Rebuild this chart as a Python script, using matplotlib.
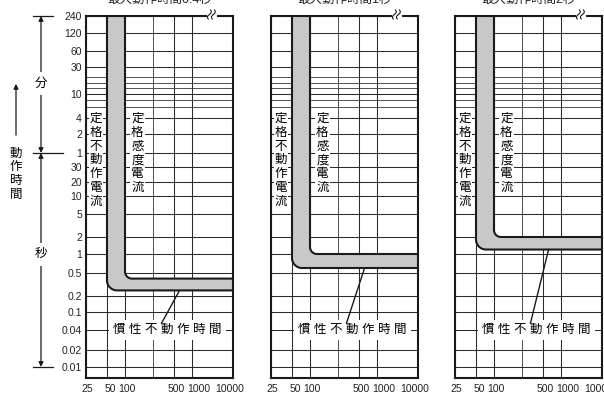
import numpy as np
import matplotlib
matplotlib.use('Agg')
import matplotlib.pyplot as plt
from matplotlib import transforms

plt.rcParams['font.family'] = ['Liberation Sans', 'Noto Sans CJK JP', 'DejaVu Sans']

# ---- data ----
titles = ['最大動作時間0.4秒', '最大動作時間1秒', '最大動作時間2秒']
max_time = [0.4, 1.0, 2.0]          # s  (定格感度電流 side of the band)
inertia_time = [0.25, 0.6, 1.2]     # s  (慣性不動作時間 side, as drawn)
rated_sens = 100                    # mA 定格感度電流
rated_nonop = 50                    # mA 定格不動作電流

x_ticks = [25, 50, 100, 500, 1000, 10000]
x_minor = [250]
min_ticks = [240, 120, 60, 30, 10, 4, 2, 1]        # minutes
min_minor = [20, 15, 12, 8, 6]                     # minutes, unlabeled lines
sec_ticks = [30, 20, 10, 5, 2, 1, 0.5, 0.2, 0.1, 0.04, 0.02, 0.01]

# ---- printed (non uniform) grid: value -> pixel along axis ----
XK = [(25, 0), (50, 21), (100, 39), (250, 67), (500, 88), (1000, 106), (10000, 147)]
YK = [(0.0064, 0), (0.01, 11), (0.02, 28), (0.04, 48), (0.1, 66), (0.2, 82),
      (0.5, 105), (1, 124), (2, 141), (5, 164), (10, 182), (20, 196), (30, 211),
      (60, 225), (120, 244), (240, 260), (360, 271), (480, 278), (600, 284),
      (720, 290), (900, 295), (1200, 301), (1800, 311), (3600, 327),
      (7200, 345), (14400, 362)]
# small horizontal nudges (px) of the printed x labels
x_label_shift = [1, 3, 2, 2, 7, -3]


def make_scale(knots):
    lv = np.log10([k[0] for k in knots])
    pv = np.array([k[1] for k in knots], float)

    def fwd(v):
        v = np.clip(np.asarray(v, float), 1e-9, None)
        return np.interp(np.log10(v), lv, pv)

    def inv(p):
        return 10 ** np.interp(np.asarray(p, float), pv, lv)
    return fwd, inv


fx, fx_inv = make_scale(XK)
fy, fy_inv = make_scale(YK)
XTOP, YTOP = 147.0, 362.0


def corner(xv, yh, r):
    # vertical from top, rounded corner, horizontal to the right edge (in px)
    a = np.linspace(np.pi, 1.5 * np.pi, 24)
    px = np.concatenate([[xv], xv + r + r * np.cos(a), [XTOP]])
    py = np.concatenate([[YTOP], yh + r + r * np.sin(a), [yh]])
    return px, py


W, H = 604, 396
fig = plt.figure(figsize=(W / 100, H / 100), dpi=100)
lefts = [86, 271, 455]
axes = []

y_vals = [m * 60 for m in min_ticks] + sec_ticks
y_labels = [f'{v:g}' for v in min_ticks + sec_ticks]
y_minor = [m * 60 for m in min_minor]

cjk = ['Noto Sans CJK JP', 'DejaVu Sans']

for i, L in enumerate(lefts):
    ax = fig.add_axes([L / W, 18 / H, 147 / W, 362 / H])
    axes.append(ax)
    ax.set_xscale('function', functions=(fx, fx_inv))
    ax.set_yscale('function', functions=(fy, fy_inv))
    ax.set_xlim(25, 10000)
    ax.set_ylim(0.0064, 14400)
    ax.set_xticks(x_ticks)
    ax.set_xticklabels([str(v) for v in x_ticks])
    ax.set_xticks(x_minor, minor=True)
    ax.set_yticks(y_vals)
    ax.set_yticks(y_minor, minor=True)
    ax.set_yticklabels(y_labels if i == 0 else [])
    ax.xaxis.set_minor_formatter(plt.NullFormatter())
    ax.yaxis.set_minor_formatter(plt.NullFormatter())
    ax.tick_params(which='both', length=0, labelsize=7.5, colors='#222')
    ax.tick_params(axis='x', pad=4)
    ax.tick_params(axis='y', pad=3)
    for lbl, dx in zip(ax.get_xticklabels(), x_label_shift):
        lbl.set_transform(lbl.get_transform() +
                          transforms.ScaledTranslation(dx / 100, 0, fig.dpi_scale_trans))
    ax.grid(True, which='major', color='#2a2a2a', lw=0.75, zorder=1)
    ax.grid(True, which='minor', color='#444444', lw=0.65, zorder=1)
    ax.set_axisbelow(True)
    for s in ax.spines.values():
        s.set_linewidth(1.5)
        s.set_color('#1a1a1a')

    # band between 定格不動作電流 / 慣性不動作時間 and 定格感度電流 / 最大動作時間
    ox, oy = corner(fx(rated_nonop), fy(inertia_time[i]), 10)
    ix, iy = corner(fx(rated_sens), fy(max_time[i]), 7)
    bx = np.concatenate([ox, ix[::-1]])
    by = np.concatenate([oy, iy[::-1]])
    ax.fill(fx_inv(bx), fy_inv(by), color='#c8c8c8', lw=0, zorder=2)
    ax.plot(fx_inv(ox), fy_inv(oy), color='#1a1a1a', lw=1.5, zorder=3,
            solid_capstyle='butt')
    ax.plot(fx_inv(ix), fy_inv(iy), color='#1a1a1a', lw=1.5, zorder=3,
            solid_capstyle='butt')

    box = dict(facecolor='white', edgecolor='none', pad=0.6)
    ax.text(35, 300, '\n'.join('定格不動作電流'), ha='center', va='top',
            fontsize=9, family=cjk, linespacing=1.08, bbox=box, zorder=4)
    ax.text(150, 300, '\n'.join('定格感度電流'), ha='center', va='top',
            fontsize=9, family=cjk, linespacing=1.08, bbox=box, zorder=4)
    ax.text(400, 0.04, ' '.join('慣性不動作時間'), ha='center', va='center',
            fontsize=9, bbox=dict(facecolor='white', edgecolor='none', pad=3),
            zorder=4)
    ax.annotate('', xy=(620, inertia_time[i]), xytext=(330, 0.056),
                arrowprops=dict(arrowstyle='-', lw=1.0, color='#1a1a1a',
                                shrinkA=0, shrinkB=0), zorder=5)

    # break mark on the top edge
    x0 = 123
    ax.plot(np.array([x0 - 1, x0 + 6]) / XTOP, [1, 1], color='white', lw=2.2,
            transform=ax.transAxes, clip_on=False, zorder=6)
    for k in (0, 4):
        yy = np.linspace(-3, 6, 40)
        xx = x0 + k + 0.25 * yy - 1.3 * np.sin(np.pi * (yy + 3) / 4.5)
        ax.plot(xx / XTOP, 1 + yy / YTOP, color='#1a1a1a', lw=0.8,
                transform=ax.transAxes, clip_on=False, zorder=7)

    fig.text((L + 73.5) / W, 1.0, titles[i], ha='center', va='center',
             fontsize=9, color='#222')

# ---- left side: 分 / 秒 / 動作時間 ----
ax1 = axes[0]
tr = transforms.blended_transform_factory(fig.transFigure, ax1.transData)
k = dict(color='#1a1a1a', lw=0.9)
for y, x2 in ((14400, 53), (60, 63), (0.01, 53)):
    ax1.plot([33 / W, x2 / W], [y, y], transform=tr, clip_on=False, **k)

head = dict(arrowstyle='<|-|>', mutation_scale=7, lw=0.9, color='#1a1a1a',
            shrinkA=0, shrinkB=0)
ax1.annotate('', xy=(41 / W, 14400), xytext=(41 / W, 60), xycoords=tr,
             textcoords=tr, arrowprops=head, annotation_clip=False)
ax1.annotate('', xy=(41 / W, 60), xytext=(41 / W, 0.01), xycoords=tr,
             textcoords=tr, arrowprops=head, annotation_clip=False)
lab = dict(facecolor='white', edgecolor='none', pad=4)
ax1.text(41 / W, 866, '分', transform=tr, ha='center', va='center',
         fontsize=9, bbox=lab, clip_on=False)
ax1.text(41 / W, 1.0, '秒', transform=tr, ha='center', va='center',
         fontsize=9, bbox=lab, clip_on=False)

ax1.annotate('', xy=(16 / W, 866), xytext=(16 / W, 115), xycoords=tr,
             textcoords=tr, annotation_clip=False,
             arrowprops=dict(arrowstyle='-|>', mutation_scale=7, lw=0.9,
                             color='#1a1a1a', shrinkA=0, shrinkB=0))
ax1.text(16 / W, 25, '\n'.join('動作時間'), transform=tr, ha='center',
         va='center', fontsize=9, family=cjk, linespacing=1.08, clip_on=False)

fig.savefig('out.png', dpi=100)
